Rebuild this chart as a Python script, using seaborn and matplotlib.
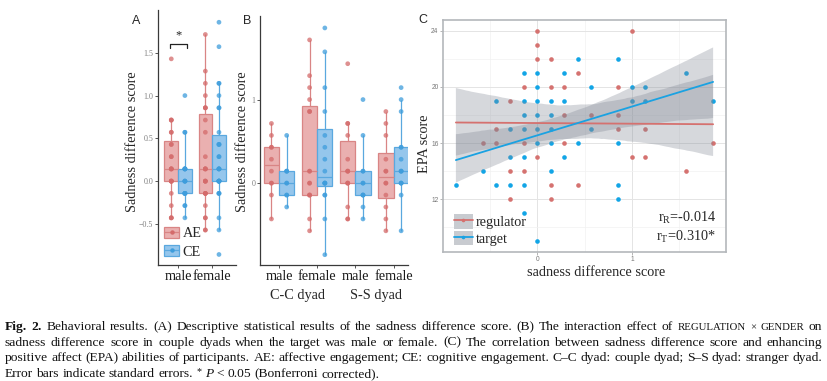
import numpy as np
import pandas as pd
import seaborn as sns
import matplotlib.pyplot as plt
from matplotlib.patches import Patch
from matplotlib.lines import Line2D
from matplotlib.font_manager import FontProperties

W, H = 828, 381

# sadness difference scores per cell (C-C = couple dyad, S-S = stranger dyad)
cc_male_ae = [-0.429, -0.143, 0, 0, 0.143, 0.286, 0.429, 0.429, 0.571, 0.714]
cc_male_ce = [-0.286, -0.143, -0.143, 0, 0, 0.143, 0.143, 0.143, 0.571]
cc_female_ae = [-0.571, -0.429, -0.143, -0.143, -0.143, 0, 0, 0.143, 0.143,
                0.857, 0.857, 1.0, 1.143, 1.286, 1.714]
cc_female_ce = [-0.857, -0.429, -0.143, -0.143, 0, 0, 0, 0, 0.143, 0.286,
                0.429, 0.571, 0.857, 1.143, 1.571, 1.857]
ss_male_ae = [-0.429, -0.429, -0.286, 0, 0, 0, 0.143, 0.143, 0.143, 0.286,
              0.571, 0.714, 0.714, 1.429]
ss_male_ce = [-0.429, -0.286, -0.143, -0.143, -0.143, 0, 0, 0.143, 0.143, 0.571, 1.0]
ss_female_ae = [-0.571, -0.429, -0.286, -0.143, 0, 0, 0.143, 0.143, 0.286,
                0.571, 0.714, 0.857]
ss_female_ce = [-0.571, -0.143, 0, 0, 0, 0.143, 0.143, 0.143, 0.286, 0.429,
                0.429, 0.857, 1.0, 1.143]

# panel C: sadness difference score (x) vs EPA score (y)
reg_x = [0, 1, 0, 0, 0.143, 0.429, -0.143, 0.143, 0.286, 0.857, -0.286,
         0.286, 0.571, 0.857, -0.429, 0.857, 1.143, -0.571, -0.429, -0.143,
         0.286, 1.857, 0, 1.0, 1.143, -0.286, -0.143, 1.571, 0.143, 0.429,
         -0.286, 0.143]
reg_y = [24, 24, 23, 22, 22, 21, 20, 20, 20, 20, 19, 18, 18, 18, 17, 17, 17,
         16, 16, 16, 16, 16, 15, 15, 15, 14, 14, 14, 13, 13, 12, 12]
tgt_x = [0.429, 0.857, -0.143, 0, 0.286, 1.571, 0, 0.571, 1.0, 1.143,
         -0.429, -0.143, 0, 0.143, 0.286, 1.0, 1.143, 1.857, -0.143, 0, 0.143,
         -0.286, -0.143, 0, 0.143, 0.571, 0, 0.143, 0.429, 0.857, -0.286,
         -0.143, 0.286, -0.571, 0.143, -0.857, -0.429, -0.286, -0.143, 0.857,
         0.857, -0.143, 0]
tgt_y = [22, 22, 21, 21, 21, 21, 20, 20, 20, 20, 19, 19, 19, 19, 19, 19, 19,
         19, 18, 18, 18, 17, 17, 17, 17, 17, 16, 16, 16, 16, 15, 15, 15, 14,
         14, 13, 13, 13, 13, 13, 12, 11, 9]

reg_levels = ["AE", "CE"]
gender_levels = ["male", "female"]
dyad_levels = ["C-C", "S-S"]
dyad_labels = ["C-C dyad", "S-S dyad"]
role_labels = ["regulator", "target"]
r_labels = [r"r$_{\mathrm{R}}$=-0.014", r"r$_{\mathrm{T}}$=0.310*"]

caption = [
    [("Fig. 2.", "bold", 1.0),
     (" Behavioral results. (A) Descriptive statistical results of the sadness difference score."
      " (B) The interaction effect of", "normal", 1.0),
     (" REGULATION × GENDER", "normal", 0.8), (" on", "normal", 1.0)],
    [("sadness difference score in couple dyads when the target was male or female. (C) The correlation"
      " between sadness difference score and enhancing", "normal", 1.0)],
    [("positive affect (EPA) abilities of participants. AE: affective engagement; CE: cognitive"
      " engagement. C–C dyad: couple dyad; S–S dyad: stranger dyad.", "normal", 1.0)],
    [("Error bars indicate standard errors.", "normal", 1.0), (" *", "sup", 0.75),
     (" P", "italic", 1.0), (" < 0.05 (Bonferroni corrected).", "normal", 1.0)],
]

cells = {("C-C", "male", "AE"): cc_male_ae, ("C-C", "male", "CE"): cc_male_ce,
         ("C-C", "female", "AE"): cc_female_ae, ("C-C", "female", "CE"): cc_female_ce,
         ("S-S", "male", "AE"): ss_male_ae, ("S-S", "male", "CE"): ss_male_ce,
         ("S-S", "female", "AE"): ss_female_ae, ("S-S", "female", "CE"): ss_female_ce}
rows = [(d, g, r, v) for (d, g, r), vals in cells.items() for v in vals]
df = pd.DataFrame(rows, columns=["dyad", "gender", "regulation", "score"])
df["cell"] = df["dyad"] + " " + df["gender"]
cell_order = [f"{d} {g}" for d in dyad_levels for g in gender_levels]

box_edge = {"AE": "#d98585", "CE": "#5aa8df"}
box_fill = {"AE": "#eab0b0", "CE": "#95c6ec"}
pt_col = {"AE": "#d46b6b", "CE": "#3e9ddc"}
reg_pt, tgt_pt = "#d57270", "#12a5e6"
reg_line, tgt_line = "#d5716f", "#1aa2e2"
band = (0.5, 0.53, 0.58, 0.32)

sns.set_theme(style="white")
plt.rcParams["font.family"] = ["Liberation Serif", "DejaVu Serif"]
plt.rcParams["mathtext.fontset"] = "custom"
plt.rcParams["mathtext.rm"] = "Liberation Serif"
plt.rcParams["mathtext.it"] = "Liberation Serif:italic"
plt.rcParams["mathtext.bf"] = "Liberation Serif:bold"

LAB = 10.3  # axis title size

fig = plt.figure(figsize=(W / 100, H / 100), dpi=100)


def px_axes(left, top, right, bottom):
    return fig.add_axes([left / W, 1 - bottom / H, (right - left) / W, (bottom - top) / H])


def ftext(x, y, s, **kw):
    return fig.text(x / W, 1 - y / H, s, **kw)


def box_panel(ax, xcol, order, ticklabels):
    sns.boxplot(data=df, x=xcol, y="score", hue="regulation", order=order,
                hue_order=reg_levels, width=0.8, gap=0, dodge=True,
                showcaps=False, showfliers=False, linewidth=0.9, legend=False, ax=ax)
    for p in ax.patches:
        xm = p.get_path().vertices[:, 0].mean()
        lev = "AE" if xm - round(xm) < 0 else "CE"
        p.set_facecolor(box_fill[lev])
        p.set_edgecolor(box_edge[lev])
        p.set_linewidth(0.9)
    for ln in ax.lines:
        xm = np.mean(ln.get_xdata())
        lev = "AE" if xm - round(xm) < 0 else "CE"
        ln.set_color(box_edge[lev])
        ln.set_linewidth(0.9)
    sns.stripplot(data=df, x=xcol, y="score", hue="regulation", order=order,
                  hue_order=reg_levels, dodge=True, jitter=False, palette=pt_col,
                  size=3.4, alpha=0.75, linewidth=0, legend=False, ax=ax)
    ax.set_ylim(-0.98, 2.0)
    ax.set_xlabel("")
    ax.set_ylabel("")
    for s in ["top", "right"]:
        ax.spines[s].set_visible(False)
    for s in ["left", "bottom"]:
        ax.spines[s].set_color("#3a3a3a")
        ax.spines[s].set_linewidth(0.9)
    ax.tick_params(left=True, bottom=True, length=2.2, width=0.6, color="#3a3a3a")
    ax.tick_params(axis="y", labelsize=5.8, labelcolor="#808080", pad=1.2)
    ax.tick_params(axis="x", labelsize=LAB, labelcolor="#1a1a1a", pad=1.5)
    ax.set_xticks(range(len(order)))
    ax.set_xticklabels(ticklabels)


# ---- panel A ----
axA = px_axes(158, 10, 236, 265)
box_panel(axA, "gender", gender_levels, gender_levels)
axA.set_xlim(-0.59, 1.7)
axA.set_yticks([-0.5, 0, 0.5, 1.0, 1.5])
axA.set_yticklabels(["\u22120.5", "0.0", "0.5", "1.0", "1.5"])
# significance bracket between AE and CE for male targets
half = 0.8 / 4
axA.plot([-half - 0.05, -half - 0.05, half + 0.05, half + 0.05], [1.56, 1.6, 1.6, 1.56],
         color="#222222", lw=0.9, clip_on=False)
axA.text(0, 1.63, "*", ha="center", va="bottom", fontsize=9, color="#222222")
leg_handles = [(Patch(facecolor=box_fill[l], edgecolor=box_edge[l], lw=0.9),
                Line2D([], [], color=box_edge[l], lw=0.9, marker="o", ms=3.2,
                       markerfacecolor=pt_col[l], markeredgewidth=0)) for l in reg_levels]
axA.legend(leg_handles, reg_levels, loc="lower left", bbox_to_anchor=(0.08, 0.025),
           frameon=False, fontsize=LAB, handlelength=1.05, handleheight=0.8,
           handletextpad=0.25, labelspacing=0.35, borderpad=0, borderaxespad=0)
ftext(133, 142, "Sadness difference score", rotation=90, ha="center", va="center", fontsize=LAB)
ftext(132, 21, "A", ha="left", va="center", fontsize=9, family="Liberation Sans")

# ---- panel B ----
axB = px_axes(260, 16, 408, 265)
box_panel(axB, "cell", cell_order, [g for d in dyad_levels for g in gender_levels])
axB.set_xlim(-0.5, 3.38)
axB.set_yticks([0, 1])
axB.set_yticklabels(["0", "1"])
ftext(243, 142, "Sadness difference score", rotation=90, ha="center", va="center", fontsize=LAB)
ftext(243, 21, "B", ha="left", va="center", fontsize=9, family="Liberation Sans")
for xc, lab in zip([298, 376], dyad_labels):
    ftext(xc, 295, lab, ha="center", va="center", fontsize=LAB)

# ---- panel C ----
axC = px_axes(443, 20, 726, 252)
sns.scatterplot(x=reg_x, y=reg_y, color=reg_pt, s=11, linewidth=0, ax=axC, zorder=2)
sns.scatterplot(x=tgt_x, y=tgt_y, color=tgt_pt, s=11, linewidth=0, ax=axC, zorder=2)
# fit lines over the shared range of scores
axC.set_xlim(min(reg_x + tgt_x), max(reg_x + tgt_x))
for xs, ys, c in [(reg_x, reg_y, reg_line), (tgt_x, tgt_y, tgt_line)]:
    n0 = len(axC.collections)
    sns.regplot(x=xs, y=ys, scatter=False, color=c, ci=95, n_boot=2000, seed=3,
                truncate=False, line_kws={"lw": 1.3, "zorder": 5}, ax=axC)
    for coll in axC.collections[n0:]:
        coll.set_facecolor(band)
        coll.set_edgecolor("none")
        coll.set_alpha(band[3])
        coll.set_zorder(3)
axC.set_xlim(-0.993, 1.993)
axC.set_ylim(8.25, 24.75)
axC.set_xticks([0, 1])
axC.set_xticks([-0.5, 0.5, 1.5], minor=True)
axC.set_yticks([12, 16, 20, 24])
axC.set_yticks([10, 14, 18, 22], minor=True)
axC.grid(which="major", color="#e4e4e4", lw=0.7)
axC.grid(which="minor", color="#f1f1f1", lw=0.5)
axC.set_axisbelow(True)
for s in axC.spines.values():
    s.set_color("#b4b7bb")
    s.set_linewidth(1.2)
axC.tick_params(which="major", left=True, bottom=True, length=2, width=0.5,
                color="#999999", labelsize=4.8, labelcolor="#777777", pad=1.2)
axC.tick_params(which="minor", length=0)
for t in axC.get_xticklabels() + axC.get_yticklabels():
    t.set_fontfamily("Liberation Sans")
axC.set_xlabel("")
axC.set_ylabel("")
c_handles = [(Patch(facecolor="#c8cbd0", edgecolor="none"),
              Line2D([], [], color=c, lw=1.3, marker="o", ms=2.6, markeredgewidth=0))
             for c in [reg_line, tgt_line]]
axC.legend(c_handles, role_labels, loc="lower left", bbox_to_anchor=(0.039, 0.026),
           frameon=False, fontsize=LAB, handlelength=1.3, handleheight=1.15,
           handletextpad=0.2, labelspacing=0.12, borderpad=0, borderaxespad=0)
for yc, lab in zip([218, 237], r_labels):
    ftext(716, yc, lab, ha="right", va="center", fontsize=LAB)
ftext(425, 144, "EPA score", rotation=90, ha="center", va="center", fontsize=LAB)
ftext(596, 273, "sadness difference score", ha="center", va="center", fontsize=LAB)
ftext(418, 20, "C", ha="left", va="center", fontsize=9, family="Liberation Sans")

# ---- caption (justified lines) ----
renderer = fig.canvas.get_renderer()


def fprops(kind, size):
    return FontProperties(family="Liberation Serif", size=size,
                          weight="bold" if kind == "bold" else "normal",
                          style="italic" if kind == "italic" else "normal")


def run_width(s, kind, size):
    fp = fprops(kind, size)
    w1 = renderer.get_text_width_height_descent("|" + s + "|", fp, ismath=False)[0]
    w0 = renderer.get_text_width_height_descent("||", fp, ismath=False)[0]
    return w1 - w0


def words(line):
    return [(w, k, f) for s, k, f in line for w in s.split(" ") if w]


LINE_W = 817
probe = 10
nat = []
for line in caption:
    ws = words(line)
    nat.append(sum(run_width(w, k, probe * f) for w, k, f in ws)
               + (len(ws) - 1) * run_width(" ", "normal", probe))
cap_size = probe * LINE_W / max(nat) * 0.995
space = run_width(" ", "normal", cap_size)
for i, line in enumerate(caption):
    ws = words(line)
    widths = [run_width(w, k, cap_size * f) for w, k, f in ws]
    gap = space if i == len(caption) - 1 else (LINE_W - sum(widths)) / (len(ws) - 1)
    x = 5
    base = 330 + i * 15.7
    for (w, k, f), wd in zip(ws, widths):
        y = base - (3 if k == "sup" else 0)
        ftext(x, y, w, ha="left", va="baseline", fontproperties=fprops(k, cap_size * f),
              color="#111111")
        x += wd + gap

fig.savefig("out.png", dpi=100)
